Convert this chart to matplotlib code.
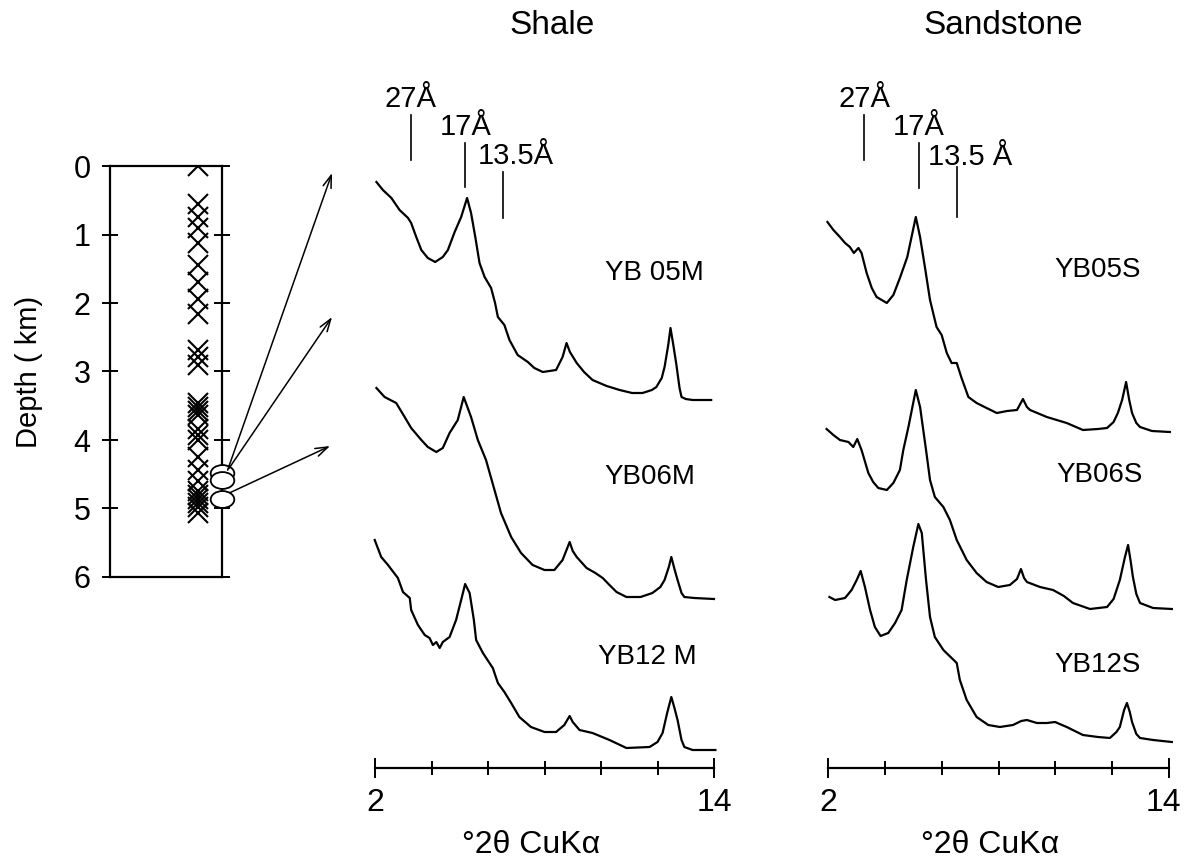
import matplotlib.pyplot as plt
import numpy as np
from matplotlib.path import Path
from matplotlib.transforms import Affine2D, ScaledTranslation

plt.rcParams['font.family'] = ['Liberation Sans', 'DejaVu Sans']

# --- depth column ---
sample_depths = [0.0, 0.55, 0.74, 0.91, 1.13, 1.45, 1.69, 1.94, 2.16, 2.69, 2.79, 2.91,
                 3.46, 3.52, 3.57, 3.63, 3.84, 3.92, 4.0, 4.25, 4.44, 4.6,
                 4.74, 4.8, 4.86, 4.92, 4.98, 5.07]
xrd_depths = [4.48, 4.59, 4.86]
depth_ticks = [0, 1, 2, 3, 4, 5, 6]

# --- reference spacings (Angstrom), CuKa ---
ref_d = [27, 17, 13.5]
shale_ref_labels = ['27Å', '17Å', '13.5Å']
sand_ref_labels = ['27Å', '17Å', '13.5 Å']

# --- shale traces: 2theta / intensity above own baseline ---
yb05m_tt = [2.05, 2.28, 2.58, 2.87, 3.17, 3.28, 3.46, 3.64, 3.87, 4.13, 4.40, 4.58, 4.82, 5.05,
            5.26, 5.40, 5.55, 5.70, 5.88, 6.11, 6.25, 6.35, 6.58, 6.76, 7.05, 7.41, 7.64, 7.94,
            8.41, 8.64, 8.78, 8.9, 9.14, 9.4, 9.7, 10.2, 10.66, 11.1, 11.47, 11.8, 11.96, 12.15,
            12.25, 12.38, 12.46, 12.56, 12.67, 12.78, 12.85, 13.0, 13.24, 13.9]
yb05m_i = [218, 210, 202, 190, 182, 177, 163, 150, 142, 138, 143, 150, 168, 183,
           202, 187, 163, 137, 123, 112, 97, 83, 75, 60, 45, 38, 32, 28,
           30, 43, 57, 48, 37, 28, 20, 14, 10, 7, 7, 10, 13, 22,
           33, 55, 72, 55, 35, 12, 3, 1, 0, 0]

yb06m_tt = [2.05, 2.34, 2.75, 3.05, 3.28, 3.64, 3.87, 4.17, 4.40, 4.64, 4.93, 5.14, 5.40, 5.64,
            5.93, 6.23, 6.46, 6.82, 7.17, 7.58, 8.0, 8.35, 8.64, 8.89, 9.0, 9.14, 9.49, 9.8,
            10.06, 10.3, 10.55, 10.9, 11.4, 11.82, 12.1, 12.25, 12.4, 12.49, 12.6, 12.71,
            12.85, 12.95, 13.3, 14.0]
yb06m_i = [211, 202, 196, 182, 171, 159, 152, 147, 151, 166, 179, 202, 182, 159,
           139, 109, 86, 62, 46, 34, 29, 29, 39, 57, 48, 42, 31, 26,
           21, 14, 7, 2, 2, 6, 12, 19, 32, 42, 30, 19,
           6, 2, 1, 0]

yb12m_tt = [1.99, 2.22, 2.46, 2.81, 2.99, 3.23, 3.28, 3.52, 3.76, 3.93, 4.05, 4.17, 4.29, 4.40,
            4.64, 4.87, 5.05, 5.19, 5.35, 5.50, 5.58, 5.82, 6.17, 6.35, 6.58, 6.82, 7.11, 7.52,
            8.0, 8.41, 8.70, 8.89, 9.0, 9.24, 9.7, 10.3, 10.6, 10.9, 11.72, 12.0, 12.18, 12.35,
            12.49, 12.6, 12.71, 12.85, 12.95, 13.24, 14.05]
yb12m_i = [210, 193, 185, 172, 158, 152, 140, 125, 115, 112, 105, 108, 102, 108,
           113, 130, 150, 166, 157, 130, 110, 97, 82, 67, 58, 47, 33, 23,
           18, 18, 25, 34, 28, 20, 17, 10, 6, 2, 3, 8, 17, 38,
           53, 42, 30, 10, 3, 0, 0]

# --- sandstone traces ---
yb05s_tt = [1.98, 2.19, 2.42, 2.60, 2.77, 2.91, 3.07, 3.18, 3.36, 3.54, 3.71, 3.89, 4.07, 4.30,
            4.53, 4.79, 4.94, 5.09, 5.24, 5.41, 5.59, 5.82, 6.0, 6.18, 6.35, 6.53, 6.70, 6.94,
            7.23, 7.58, 7.94, 8.3, 8.65, 8.86, 9.0, 9.11, 9.7, 10.4, 10.97, 11.5, 11.82, 12.05,
            12.2, 12.35, 12.49, 12.6, 12.7, 12.85, 12.98, 13.4, 14.03]
yb05s_i = [210, 202, 195, 189, 185, 179, 184, 179, 159, 144, 135, 132, 129, 137,
           154, 175, 195, 215, 195, 165, 132, 105, 97, 79, 69, 69, 54, 35,
           29, 24, 19, 21, 22, 33, 25, 22, 15, 9, 2, 3, 4, 10,
           19, 32, 50, 32, 19, 9, 5, 1, 0]

yb06s_tt = [1.95, 2.19, 2.42, 2.72, 2.89, 3.03, 3.18, 3.42, 3.59, 3.77, 4.07, 4.30, 4.53, 4.65,
            4.83, 5.09, 5.24, 5.45, 5.59, 5.76, 6.06, 6.29, 6.53, 6.88, 7.23, 7.58, 7.99, 8.4,
            8.65, 8.79, 8.9, 9.0, 9.46, 9.92, 10.3, 10.62, 11.22, 11.82, 12.05, 12.27, 12.45,
            12.56, 12.65, 12.73, 12.85, 12.98, 13.44, 14.1]
yb06s_i = [180, 174, 169, 167, 162, 170, 159, 136, 127, 121, 119, 126, 139, 159,
           182, 219, 202, 159, 129, 112, 102, 89, 69, 49, 36, 27, 22, 24,
           30, 40, 31, 27, 22, 19, 13, 6, 0, 2, 10, 29, 52,
           64, 48, 32, 15, 6, 1, 0]

yb12s_tt = [2.05, 2.25, 2.60, 2.83, 3.01, 3.15, 3.30, 3.48, 3.65, 3.85, 4.12, 4.36, 4.59, 4.77,
            5.0, 5.18, 5.30, 5.45, 5.59, 5.76, 6.06, 6.35, 6.53, 6.64, 6.88, 7.23, 7.64, 8.05,
            8.51, 8.8, 9.0, 9.35, 9.7, 9.99, 10.4, 10.97, 11.5, 11.92, 12.15, 12.27, 12.42,
            12.52, 12.62, 12.7, 12.85, 12.98, 13.44, 14.1]
yb12s_i = [145, 142, 144, 152, 162, 171, 155, 132, 115, 106, 109, 119, 132, 162,
           195, 218, 209, 162, 125, 105, 92, 84, 79, 62, 42, 25, 17, 15,
           17, 21, 22, 19, 19, 20, 15, 7, 5, 4, 10, 15, 32,
           39, 30, 20, 8, 4, 2, 0]

shale_names = ['YB 05M', 'YB06M', 'YB12 M']
sand_names = ['YB05S', 'YB06S', 'YB12S']
shale_offsets = [368, 169, 18]
sand_offsets = [336, 159, 26]


def two_theta(d, lam=1.5418):
    return np.degrees(2 * np.arcsin(lam / (2 * d)))


def pos(x0, y0, x1, y1, W=1184, H=863):
    # pixel box -> figure fraction
    return [x0 / W, 1 - y1 / H, (x1 - x0) / W, (y1 - y0) / H]


def draw_xrd_panel(ax, traces, names, offsets, name_pos, ref_labels, ref_spans, label_dy,
                   xlabel_x):
    for (tt, inten), off in zip(traces, offsets):
        ax.plot(tt, np.array(inten) + off, color='black', lw=1.6, clip_on=False)
    for name, (x, y) in zip(names, name_pos):
        ax.text(x, y, name, ha='center', va='center', fontsize=20)
    for d, lab, (y0, y1), dx, dy in zip(ref_d, ref_labels, ref_spans, [0, 0, 0.45], label_dy):
        x = two_theta(d)
        ax.plot([x, x], [y0, y1], color='black', lw=1.2)
        ax.text(x + dx, y1 + dy, lab, ha='center', va='bottom', fontsize=21)

    ax.set_xlim(2, 14)
    ax.set_ylim(0, 708)
    for s in ['left', 'right', 'top']:
        ax.spines[s].set_visible(False)
    ax.spines['bottom'].set_linewidth(1.6)
    ax.set_yticks([])
    ax.set_xticks([2, 14])
    ax.set_xticklabels(['2', '14'])
    ax.set_xticks([4, 6, 8, 10, 12], minor=True)
    ax.tick_params(axis='x', which='major', direction='inout', length=15, width=1.4,
                   labelsize=23, pad=7)
    ax.tick_params(axis='x', which='minor', direction='inout', length=10, width=1.4)
    ax.set_xlabel('°2θ CuKα', fontsize=23)
    ax.xaxis.label.set_va('center')
    ax.xaxis.set_label_coords(xlabel_x, -0.109)
    ax.patch.set_alpha(0)


fig = plt.figure(figsize=(11.84, 8.63), dpi=100)

# depth column
ax_d = fig.add_axes(pos(110, 166, 222, 577))
ax_d.plot([0.79] * len(sample_depths), sample_depths, 'x', color='black', ms=14, mew=1.5)
ellipse = Affine2D().scale(1.4, 1.0).transform_path(Path.unit_circle())
ax_d.plot([1.0] * len(xrd_depths), xrd_depths, linestyle='none', marker=ellipse, ms=17,
          mfc='white', mec='black', mew=1.3, clip_on=False, zorder=5)
ax_d.set_xlim(0, 1)
ax_d.set_ylim(6, 0)
ax_d.set_xticks([])
ax_d.set_yticks(depth_ticks)
ax_d.tick_params(axis='y', direction='inout', length=12, width=1.4, right=True,
                 labelsize=22, pad=8)
for s in ax_d.spines.values():
    s.set_linewidth(1.6)
ax_d.set_ylabel('Depth ( km)', fontsize=21, labelpad=22)

# shale panel
ax_sh = fig.add_axes(pos(375, 60, 714, 768))
draw_xrd_panel(ax_sh, [(yb05m_tt, yb05m_i), (yb06m_tt, yb06m_i), (yb12m_tt, yb12m_i)],
               shale_names, shale_offsets,
               [(11.9, 495), (11.72, 291), (11.65, 111)],
               shale_ref_labels, [(608, 653), (581, 625), (550, 596)], [2, 2, 2], 0.46)

# sandstone panel
ax_ss = fig.add_axes(pos(828, 60, 1169, 768))
draw_xrd_panel(ax_ss, [(yb05s_tt, yb05s_i), (yb06s_tt, yb06s_i), (yb12s_tt, yb12s_i)],
               sand_names, sand_offsets,
               [(11.5, 498), (11.57, 293), (11.5, 103)],
               sand_ref_labels, [(608, 653), (580, 625), (551, 601)], [2, 2, -4], 0.475)

# keep the right-hand "14" inside the figure, as in the original
for lab in ax_ss.get_xticklabels():
    if lab.get_text() == '14':
        lab.set_transform(lab.get_transform() + ScaledTranslation(-4 / 72, 0, fig.dpi_scale_trans))

fig.text(552 / 1184, 1 - 25 / 863, 'Shale', ha='center', va='center', fontsize=24)
fig.text(1003 / 1184, 1 - 25 / 863, 'Sandstone', ha='center', va='center', fontsize=24)

# arrows from the three XRD samples to the shale traces
arrow_tails = [(1.05, 4.44), (1.06, 4.42), (1.07, 4.77)]
arrow_tips = [(0.48, 595), (0.48, 451), (0.41, 322)]
for tail, tip in zip(arrow_tails, arrow_tips):
    ax_sh.annotate('', xy=tip, xycoords='data', xytext=tail, textcoords=ax_d.transData,
                   arrowprops=dict(arrowstyle='->,head_length=0.9,head_width=0.3',
                                   color='black', lw=1.1, shrinkA=0, shrinkB=0),
                   annotation_clip=False)

fig.savefig('out.png', dpi=100)
